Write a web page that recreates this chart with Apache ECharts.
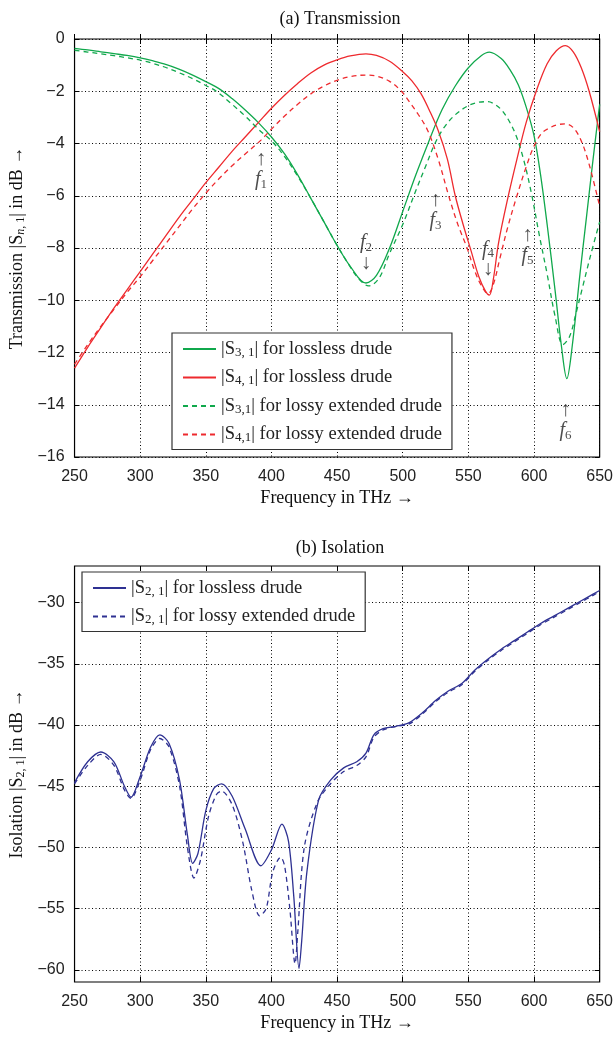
<!DOCTYPE html>
<html lang="en">
<head>
<meta charset="UTF-8">
<title>Transmission / Isolation</title>
<script src="https://cdn.jsdelivr.net/npm/echarts@6/dist/echarts.min.js"></script>
</head>
<body style="margin:0;background:#fff">
<div id="main" style="width:616px;height:1038px"></div>
<script>
// ---- data: (a) transmission ----
var s31LosslessF = [250, 260, 270, 280, 290, 300, 310, 320, 330, 340, 350, 360, 370, 380, 390, 400, 410, 420, 430, 440, 450, 460, 472, 480, 490, 500, 510, 520, 530, 540, 550, 560, 566, 575, 582, 588, 594, 600, 605, 610, 616, 621, 625, 629, 635, 640, 645, 650];
var s31LosslessDb = [-0.36, -0.42, -0.49, -0.56, -0.63, -0.72, -0.84, -0.98, -1.16, -1.38, -1.63, -1.9, -2.28, -2.72, -3.2, -3.75, -4.4, -5.2, -6.1, -7.0, -7.9, -8.7, -9.34, -9.05, -8.0, -6.6, -5.2, -3.9, -2.7, -1.8, -1.1, -0.63, -0.5, -0.75, -1.2, -1.75, -2.6, -3.7, -5.2, -7.1, -9.6, -11.8, -13.0, -11.8, -9.0, -6.8, -4.6, -2.5];

var s41LosslessF = [250, 260, 270, 280, 290, 300, 310, 320, 330, 340, 350, 360, 370, 380, 390, 400, 410, 420, 430, 440, 450, 460, 472, 480, 490, 500, 507, 514, 520, 527, 534, 540, 546, 552, 558, 563, 566, 569, 573, 580, 587, 594, 602, 610, 617, 624, 630, 636, 642, 650];
var s41LosslessDb = [-12.6, -11.8, -11.05, -10.3, -9.6, -8.9, -8.2, -7.5, -6.8, -6.15, -5.5, -4.9, -4.3, -3.75, -3.2, -2.65, -2.15, -1.7, -1.3, -1.0, -0.8, -0.65, -0.57, -0.63, -0.85, -1.25, -1.6, -2.1, -2.7, -3.5, -4.6, -6.0, -7.1, -8.1, -9.1, -9.65, -9.8, -9.2, -7.8, -6.1, -4.6, -3.2, -1.95, -0.95, -0.45, -0.25, -0.5, -1.1, -2.0, -3.55];

var s31LossyF = [250, 260, 270, 280, 290, 300, 310, 320, 330, 340, 350, 358, 370, 380, 390, 400, 410, 420, 430, 440, 450, 460, 466, 474, 482, 490, 500, 510, 518, 525, 532, 540, 550, 558, 565, 570, 575, 580, 586, 592, 598, 604, 610, 616, 622, 627, 632, 637, 643, 650];
var s31LossyDb = [-0.43, -0.5, -0.57, -0.64, -0.72, -0.81, -0.94, -1.1, -1.3, -1.52, -1.78, -2.0, -2.5, -2.95, -3.45, -3.9, -4.5, -5.25, -6.1, -7.0, -7.9, -8.72, -9.15, -9.45, -9.15, -8.2, -7.1, -5.8, -4.8, -3.95, -3.35, -2.9, -2.55, -2.42, -2.4, -2.5, -2.7, -3.05, -3.65, -4.6, -5.9, -7.5, -9.0, -10.6, -11.7, -11.4, -10.5, -9.5, -8.3, -7.0];

var s41LossyF = [250, 260, 270, 280, 290, 300, 310, 320, 330, 340, 350, 360, 370, 380, 392, 400, 410, 420, 430, 440, 450, 460, 472, 480, 490, 499, 505, 512, 519, 527, 535, 542, 549, 555, 560, 565, 569, 574, 580, 587, 594, 600, 606, 612, 618, 624, 630, 636, 642, 650];
var s41LossyDb = [-12.45, -11.7, -11.0, -10.35, -9.7, -9.1, -8.45, -7.8, -7.15, -6.5, -5.9, -5.35, -4.85, -4.4, -3.87, -3.45, -2.95, -2.5, -2.1, -1.8, -1.58, -1.44, -1.38, -1.42, -1.62, -2.0, -2.4, -2.9, -3.5, -4.6, -6.0, -7.1, -8.0, -8.9, -9.45, -9.75, -9.4, -8.4, -7.2, -6.0, -4.9, -4.1, -3.6, -3.4, -3.28, -3.25, -3.4, -3.9, -4.8, -6.4];

var legendTop = ['|S{s|3, 1}| for lossless drude', '|S{s|4, 1}| for lossless drude',
                 '|S{s|3,1}| for lossy extended drude', '|S{s|4,1}| for lossy extended drude'];

// markers f1..f6: frequency, dB, index, arrow direction
var annF = [392, 472, 525, 565, 595, 624];
var annDb = [-5.0, -8.2, -6.55, -8.45, -7.9, -14.6];
var annIdx = ['1', '2', '3', '4', '5', '6'];
var annDir = ['up', 'down', 'up', 'down', 'up', 'up'];

// ---- data: (b) isolation ----
var s21LosslessF = [250, 260, 270, 280, 288, 293, 300, 308, 315, 322, 330, 336, 340, 344, 350, 356, 362, 370, 380, 392, 400, 408, 413, 417, 421, 423, 427, 436, 445, 455, 465, 472, 478, 485, 495, 505, 515, 525, 535, 545, 555, 565, 575, 585, 595, 605, 615, 625, 635, 645, 650];
var s21LosslessDb = [-44.7, -43.0, -42.2, -43.0, -45.0, -45.9, -44.2, -41.8, -40.8, -41.5, -44.5, -49.0, -51.3, -50.5, -47.0, -45.2, -44.8, -45.8, -48.5, -51.5, -50.2, -48.1, -49.5, -54.0, -59.9, -57.7, -52.0, -46.1, -44.5, -43.5, -43.0, -42.3, -40.8, -40.3, -40.1, -39.8, -39.0, -38.0, -37.2, -36.6, -35.5, -34.6, -33.8, -33.1, -32.4, -31.7, -31.1, -30.5, -29.9, -29.3, -29.0];

var s21LossyF = [250, 260, 270, 280, 288, 293, 300, 308, 315, 322, 330, 336, 341, 346, 352, 358, 362, 370, 378, 385, 391, 396, 401, 407, 410, 414, 418, 420, 425, 435, 445, 455, 465, 472, 478, 485, 495, 505, 515, 525, 535, 545, 555, 565, 575, 585, 595, 605, 615, 625, 635, 645, 650];
var s21LossyDb = [-44.8, -43.3, -42.4, -43.3, -45.3, -46.0, -44.5, -42.0, -41.1, -41.8, -45.0, -50.0, -52.5, -51.0, -47.5, -45.7, -45.4, -46.5, -49.5, -53.5, -55.6, -55.0, -52.0, -50.8, -51.5, -55.0, -59.5, -57.0, -50.0, -46.3, -44.8, -43.8, -43.3, -42.6, -41.0, -40.4, -40.1, -39.9, -39.1, -38.1, -37.3, -36.7, -35.6, -34.7, -33.9, -33.2, -32.5, -31.8, -31.2, -30.6, -30.0, -29.4, -29.1];

var legendBottom = ['|S{s|2, 1}| for lossless drude', '|S{s|2, 1}| for lossy extended drude'];

var xTicks = [250, 650, 50];
var yTicksTop = [-16, 0, 2];
var yTicksBottom = [-60, -55, -50, -45, -40, -35, -30];

// ---- chart ----
var serif = '"Liberation Serif", "DejaVu Serif", serif';
var sans = '"Liberation Sans", Arial, sans-serif';
var GREEN = '#10a84c', RED = '#ee2a2e', BLUE = '#2e3192';

function zip(f, v) {
    return f.map(function (x, i) { return [x, v[i]]; });
}
function minus(v) {
    return v < 0 ? '\u2212' + (-v) : '' + v;
}

var myChart = echarts.init(document.getElementById('main'), null, {renderer: 'canvas'});

var dotted = {color: '#000', width: 1, type: [1, 2.5]};

function mainX(gi) {
    return {
        gridIndex: gi, type: 'value', min: xTicks[0], max: xTicks[1], interval: xTicks[2],
        name: 'Frequency in THz \u2192', nameLocation: 'middle', nameGap: 32,
        nameTextStyle: {fontFamily: serif, fontSize: 18, color: '#111'},
        axisLine: {show: false},
        axisTick: {show: true, inside: true, length: 5, lineStyle: {color: '#000'}},
        axisLabel: {fontFamily: sans, fontSize: 16, color: '#222', margin: 12},
        splitLine: {show: true, lineStyle: dotted}
    };
}
function topX(gi) {
    return {
        gridIndex: gi, type: 'value', position: 'top', min: xTicks[0], max: xTicks[1], interval: xTicks[2],
        axisLine: {show: false}, axisLabel: {show: false}, splitLine: {show: false},
        axisTick: {show: true, inside: true, length: 5, lineStyle: {color: '#000'}}
    };
}

var ySub = {fontFamily: serif, fontSize: 12, padding: [7, 0, 0, 0]};

function legendBox(data, left, top) {
    return {
        data: data, left: left, top: top, orient: 'vertical',
        itemWidth: 33, itemHeight: 12, itemGap: 8.5,
        padding: [6, 10, 5, 10],
        backgroundColor: '#fff', borderColor: '#333', borderWidth: 1.2,
        itemStyle: {opacity: 0},
        textStyle: {fontFamily: serif, fontSize: 18.5, lineHeight: 18, color: '#222',
            rich: {s: {fontFamily: serif, fontSize: 13, lineHeight: 18, padding: [7, 0, 0, 0]}}}
    };
}

var option = {
    animation: false,
    backgroundColor: '#fff',
    title: [
        {text: '(a) Transmission', left: 335, top: 5, textAlign: 'center',
         textStyle: {fontFamily: serif, fontSize: 18, fontWeight: 'normal', color: '#111'}},
        {text: '(b) Isolation', left: 335, top: 534, textAlign: 'center',
         textStyle: {fontFamily: serif, fontSize: 18, fontWeight: 'normal', color: '#111'}}
    ],
    grid: [
        {left: 71, top: 39, width: 529, height: 418, show: true, borderColor: '#000', borderWidth: 1.2},
        {left: 71, top: 566, width: 529, height: 416, show: true, borderColor: '#000', borderWidth: 1.2}
    ],
    xAxis: [mainX(0), topX(0), mainX(1), topX(1)],
    yAxis: [
        {
            gridIndex: 0, type: 'value', min: yTicksTop[0], max: yTicksTop[1], interval: yTicksTop[2],
            name: 'Transmission |S{i|n}{s|, 1}| in dB \u2192', nameLocation: 'middle', nameGap: 47, nameRotate: 90,
            nameTextStyle: {fontFamily: serif, fontSize: 18, color: '#111',
                rich: {i: {fontFamily: serif, fontSize: 12, fontStyle: 'italic', padding: [7, 0, 0, 0]}, s: ySub}},
            axisLine: {show: false},
            axisTick: {show: true, inside: true, length: 5, lineStyle: {color: '#000'}},
            axisLabel: {fontFamily: sans, fontSize: 16, color: '#222', margin: 10, formatter: minus},
            splitLine: {show: true, lineStyle: dotted}
        },
        {
            gridIndex: 0, type: 'value', position: 'right', min: yTicksTop[0], max: yTicksTop[1], interval: yTicksTop[2],
            axisLine: {show: false}, axisLabel: {show: false}, splitLine: {show: false},
            axisTick: {show: true, inside: true, length: 5, lineStyle: {color: '#000'}}
        },
        {
            gridIndex: 1, type: 'value', min: -61, max: -27,
            name: 'Isolation |S{s|2, 1}| in dB \u2192', nameLocation: 'middle', nameGap: 47, nameRotate: 90,
            nameTextStyle: {fontFamily: serif, fontSize: 18, color: '#111', rich: {s: ySub}},
            axisLine: {show: false},
            axisTick: {show: true, inside: true, length: 5, lineStyle: {color: '#000'}, customValues: yTicksBottom},
            axisLabel: {fontFamily: sans, fontSize: 16, color: '#222', margin: 10, formatter: minus, customValues: yTicksBottom},
            splitLine: {show: true, lineStyle: dotted}
        },
        {
            gridIndex: 1, type: 'value', position: 'right', min: -61, max: -27,
            axisLine: {show: false}, axisLabel: {show: false}, splitLine: {show: false},
            axisTick: {show: true, inside: true, length: 5, lineStyle: {color: '#000'}, customValues: yTicksBottom}
        }
    ],
    legend: [legendBox(legendTop, 172, 333), legendBox(legendBottom, 82, 572)],
    series: [
        {name: legendTop[0], type: 'line', xAxisIndex: 0, yAxisIndex: 0, smooth: 0.35, symbol: 'none',
         lineStyle: {color: GREEN, width: 1.3}, itemStyle: {color: GREEN}, data: zip(s31LosslessF, s31LosslessDb)},
        {name: legendTop[1], type: 'line', xAxisIndex: 0, yAxisIndex: 0, smooth: 0.35, symbol: 'none',
         lineStyle: {color: RED, width: 1.3}, itemStyle: {color: RED}, data: zip(s41LosslessF, s41LosslessDb)},
        {name: legendTop[2], type: 'line', xAxisIndex: 0, yAxisIndex: 0, smooth: 0.35, symbol: 'none',
         lineStyle: {color: GREEN, width: 1.3, type: [5, 4]}, itemStyle: {color: GREEN}, data: zip(s31LossyF, s31LossyDb)},
        {name: legendTop[3], type: 'line', xAxisIndex: 0, yAxisIndex: 0, smooth: 0.35, symbol: 'none',
         lineStyle: {color: RED, width: 1.3, type: [5, 4]}, itemStyle: {color: RED}, data: zip(s41LossyF, s41LossyDb)},
        {
            name: 'markers', type: 'scatter', xAxisIndex: 0, yAxisIndex: 0, symbolSize: 1,
            itemStyle: {color: 'rgba(0,0,0,0)'}, silent: true,
            data: annF.map(function (f, i) { return [f, annDb[i], annIdx[i], annDir[i]]; }),
            label: {
                show: true, position: 'inside', color: '#222', lineHeight: 20,
                formatter: function (p) {
                    var t = '{f|f}{s|' + p.value[2] + '}';
                    return p.value[3] === 'up' ? '{a|\u2191}\n' + t : t + '\n{a|\u2193}';
                },
                rich: {
                    a: {fontFamily: serif, fontSize: 21, color: '#222', lineHeight: 21},
                    f: {fontFamily: serif, fontSize: 20, fontStyle: 'italic', color: '#222', lineHeight: 20},
                    s: {fontFamily: serif, fontSize: 13, color: '#222', padding: [9, 0, 0, 0], lineHeight: 20}
                }
            }
        },
        {name: legendBottom[0], type: 'line', xAxisIndex: 2, yAxisIndex: 2, smooth: 0.3, symbol: 'none',
         lineStyle: {color: BLUE, width: 1.3}, itemStyle: {color: BLUE}, data: zip(s21LosslessF, s21LosslessDb)},
        {name: legendBottom[1], type: 'line', xAxisIndex: 2, yAxisIndex: 2, smooth: 0.3, symbol: 'none',
         lineStyle: {color: BLUE, width: 1.3, type: [5, 4]}, itemStyle: {color: BLUE}, data: zip(s21LossyF, s21LossyDb)}
    ]
};

myChart.setOption(option);
</script>
</body>
</html>
